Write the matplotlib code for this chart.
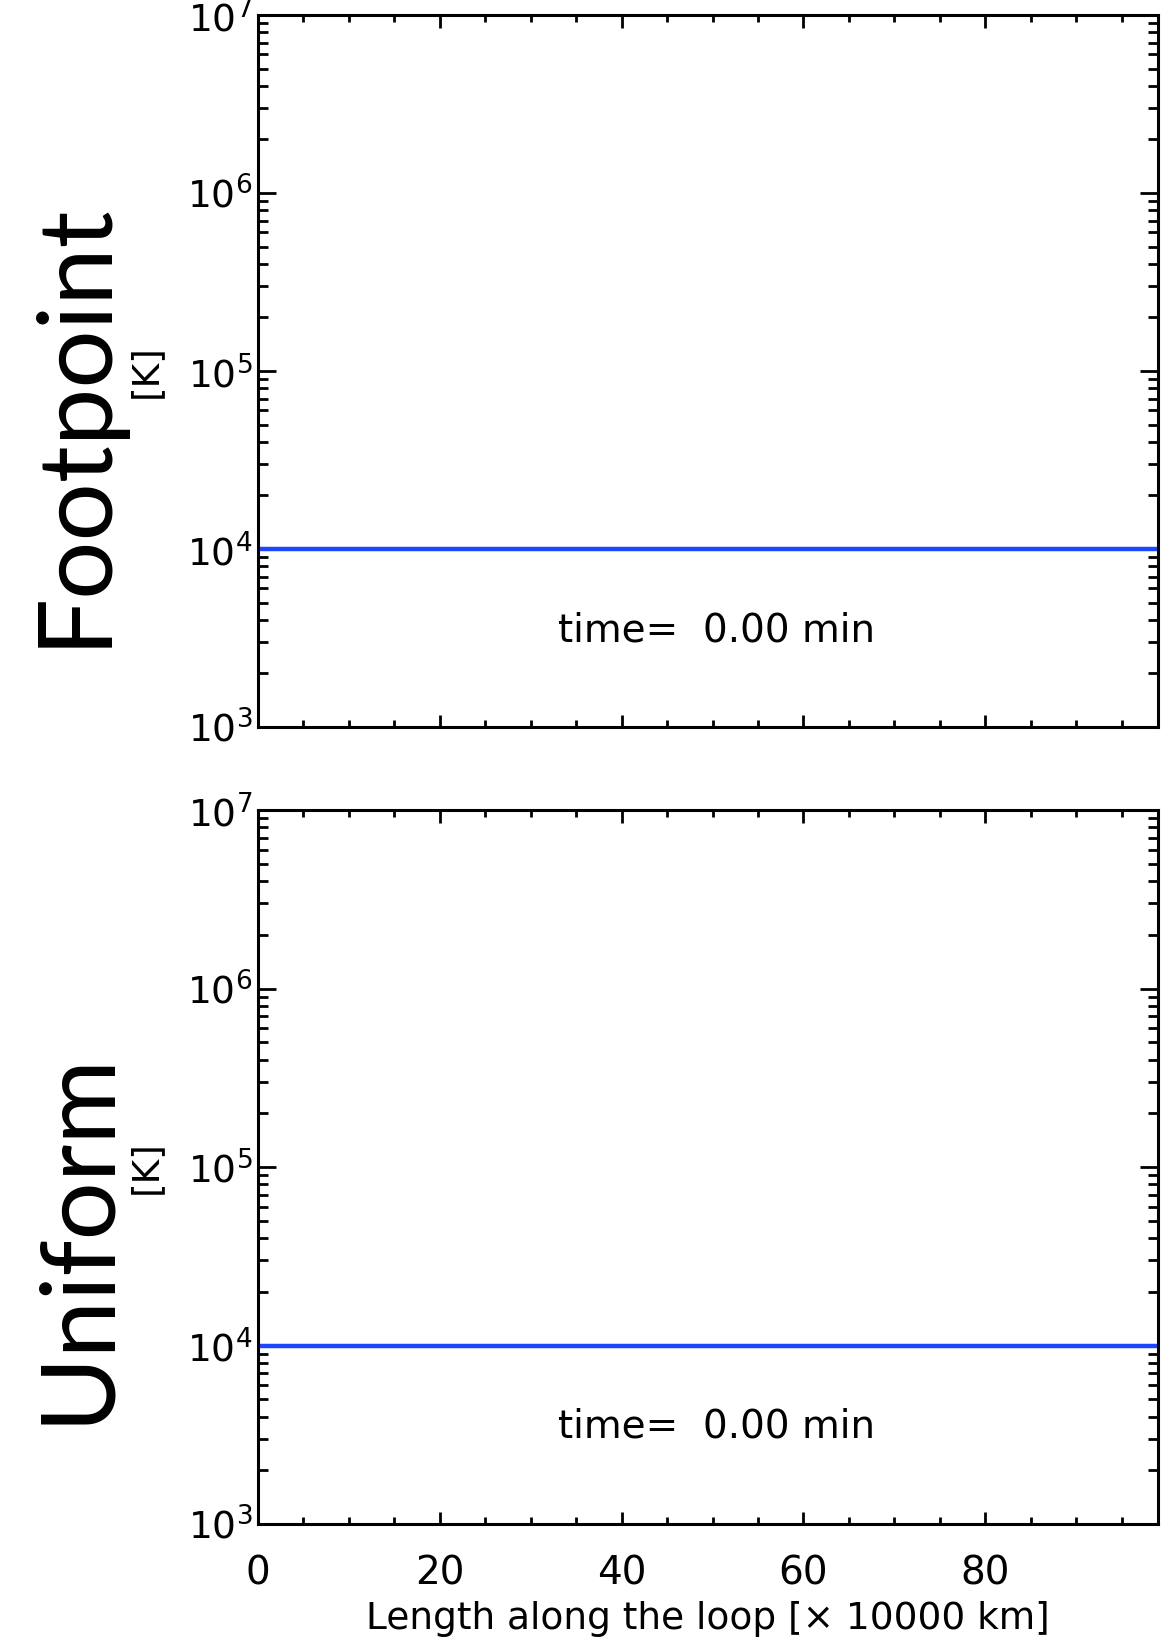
import numpy as np
import matplotlib.pyplot as plt
from matplotlib.ticker import LogLocator, MultipleLocator, NullFormatter

# loop coordinate [x 10000 km] and temperature [K] for both heating cases
loop_length = [0.0, 99.0]
temp_footpoint = [1.0e4, 1.0e4]
temp_uniform = [1.0e4, 1.0e4]

panel_names = ['Footpoint', 'Uniform']
time_min = 0.00

x_range = (0, 99)
y_range = (1e3, 1e7)
x_ticks = [0, 20, 40, 60, 80]

W, H = 1165, 1642
fig = plt.figure(figsize=(W / 100, H / 100), dpi=100)

def style_axes(ax, show_xlabels):
    ax.set_yscale('log')
    ax.set_xlim(*x_range)
    ax.set_ylim(*y_range)
    ax.set_xticks(x_ticks)
    ax.xaxis.set_minor_locator(MultipleLocator(5))
    ax.yaxis.set_major_locator(LogLocator(base=10, numticks=10))
    ax.yaxis.set_minor_locator(LogLocator(base=10, subs=np.arange(2, 10), numticks=20))
    ax.yaxis.set_minor_formatter(NullFormatter())
    for s in ax.spines.values():
        s.set_linewidth(2.2)
    ax.tick_params(axis='both', which='both', direction='in', top=True, right=True, width=2.0)
    ax.tick_params(axis='y', which='major', length=13, labelsize=27, pad=4)
    ax.tick_params(axis='y', which='minor', length=7)
    ax.tick_params(axis='x', which='major', length=9, labelsize=28, pad=22)
    ax.tick_params(axis='x', which='minor', length=5)
    if not show_xlabels:
        ax.tick_params(axis='x', labelbottom=False)

ax_top = fig.add_axes([258 / W, 1 - 727 / H, 900 / W, 712 / H])
ax_bot = fig.add_axes([258 / W, 1 - 1524 / H, 900 / W, 714 / H])

for ax, temp, show in [(ax_top, temp_footpoint, False), (ax_bot, temp_uniform, True)]:
    style_axes(ax, show)
    ax.plot(loop_length, temp, color='#1E46FF', lw=3.2, solid_capstyle='butt')
    ax.text(0.509, 0.136, f'time=  {time_min:.2f} min', transform=ax.transAxes,
            ha='center', va='center', fontsize=28)
    ax.set_ylabel('[K]', fontsize=27)
    ax.yaxis.set_label_coords(-0.105, 0.5)

ax_bot.set_xlabel('Length along the loop [\u00d7 10000 km]', fontsize=27, labelpad=6)

# large case names along the left edge
big_font = ['Lato', 'DejaVu Sans']
fig.text(104 / W, 1 - 424 / H, panel_names[0], rotation=90, rotation_mode='anchor',
         ha='center', va='baseline', fontsize=74, family=big_font)
fig.text(107 / W, 1 - 1237 / H, panel_names[1], rotation=90, rotation_mode='anchor',
         ha='center', va='baseline', fontsize=74, family=big_font)

fig.savefig('out.png', dpi=100)
plt.close(fig)
